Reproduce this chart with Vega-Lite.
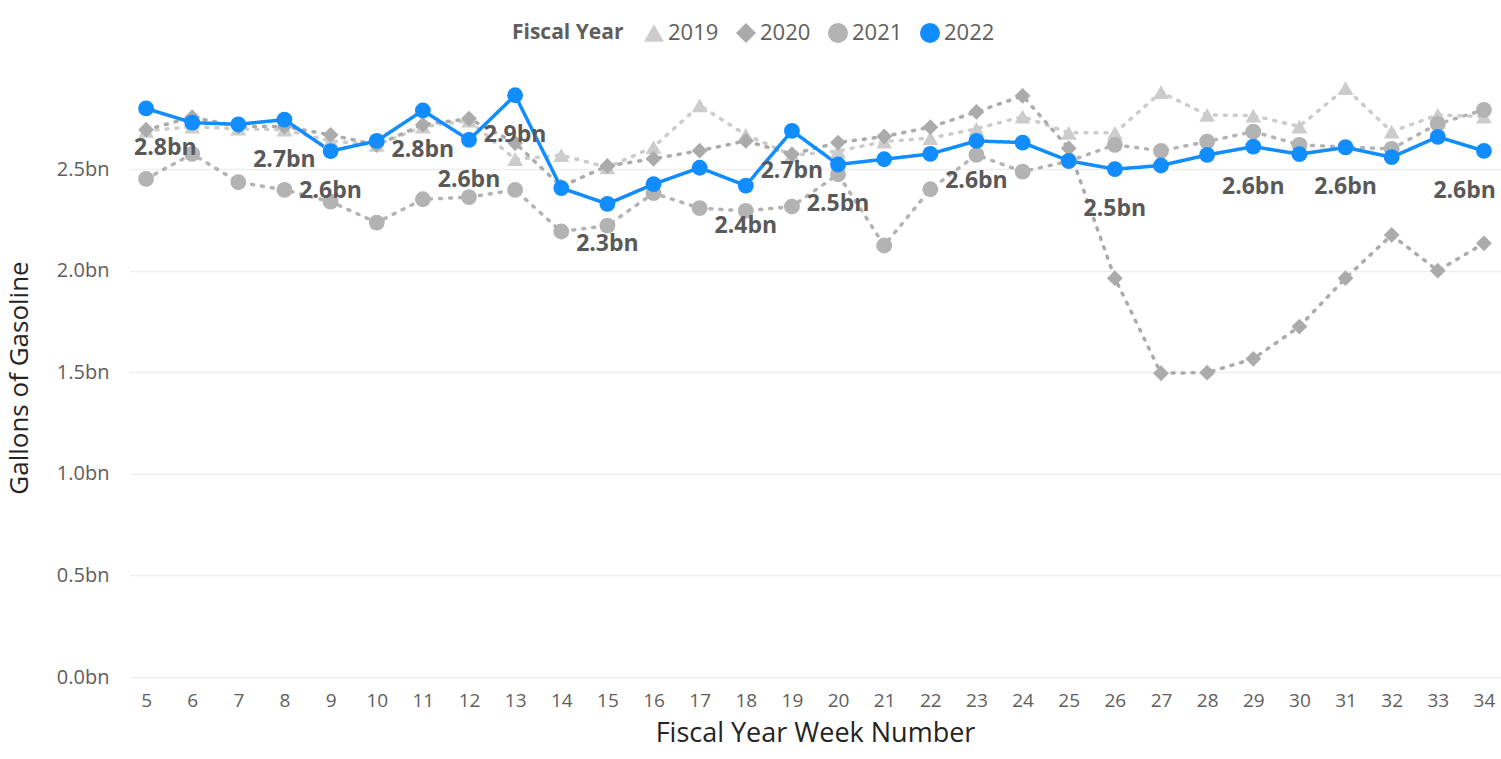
{
  "$schema": "https://vega.github.io/schema/vega-lite/v6.json",
  "width": 1372,
  "height": 599,
  "autosize": {"type": "none"},
  "padding": {"left": 129, "top": 78, "right": 0, "bottom": 82},
  "background": "white",
  "config": {"view": {"stroke": null}, "font": "Open Sans"},
  "data": {
    "values": [
      {"week": 5, "year": "2019", "gallons": 2.69},
      {"week": 6, "year": "2019", "gallons": 2.71},
      {"week": 7, "year": "2019", "gallons": 2.70},
      {"week": 8, "year": "2019", "gallons": 2.695},
      {"week": 9, "year": "2019", "gallons": 2.64},
      {"week": 10, "year": "2019", "gallons": 2.62},
      {"week": 11, "year": "2019", "gallons": 2.71},
      {"week": 12, "year": "2019", "gallons": 2.74},
      {"week": 13, "year": "2019", "gallons": 2.55},
      {"week": 14, "year": "2019", "gallons": 2.57},
      {"week": 15, "year": "2019", "gallons": 2.51},
      {"week": 16, "year": "2019", "gallons": 2.61},
      {"week": 17, "year": "2019", "gallons": 2.815},
      {"week": 18, "year": "2019", "gallons": 2.67},
      {"week": 19, "year": "2019", "gallons": 2.57},
      {"week": 20, "year": "2019", "gallons": 2.59},
      {"week": 21, "year": "2019", "gallons": 2.637},
      {"week": 22, "year": "2019", "gallons": 2.654},
      {"week": 23, "year": "2019", "gallons": 2.70},
      {"week": 24, "year": "2019", "gallons": 2.76},
      {"week": 25, "year": "2019", "gallons": 2.68},
      {"week": 26, "year": "2019", "gallons": 2.68},
      {"week": 27, "year": "2019", "gallons": 2.88},
      {"week": 28, "year": "2019", "gallons": 2.768},
      {"week": 29, "year": "2019", "gallons": 2.765},
      {"week": 30, "year": "2019", "gallons": 2.711},
      {"week": 31, "year": "2019", "gallons": 2.90},
      {"week": 32, "year": "2019", "gallons": 2.686},
      {"week": 33, "year": "2019", "gallons": 2.768},
      {"week": 34, "year": "2019", "gallons": 2.76},
      {"week": 5, "year": "2020", "gallons": 2.695},
      {"week": 6, "year": "2020", "gallons": 2.757},
      {"week": 7, "year": "2020", "gallons": 2.711},
      {"week": 8, "year": "2020", "gallons": 2.711},
      {"week": 9, "year": "2020", "gallons": 2.67},
      {"week": 10, "year": "2020", "gallons": 2.62},
      {"week": 11, "year": "2020", "gallons": 2.72},
      {"week": 12, "year": "2020", "gallons": 2.75},
      {"week": 13, "year": "2020", "gallons": 2.63},
      {"week": 14, "year": "2020", "gallons": 2.415},
      {"week": 15, "year": "2020", "gallons": 2.517},
      {"week": 16, "year": "2020", "gallons": 2.552},
      {"week": 17, "year": "2020", "gallons": 2.592},
      {"week": 18, "year": "2020", "gallons": 2.64},
      {"week": 19, "year": "2020", "gallons": 2.575},
      {"week": 20, "year": "2020", "gallons": 2.632},
      {"week": 21, "year": "2020", "gallons": 2.662},
      {"week": 22, "year": "2020", "gallons": 2.708},
      {"week": 23, "year": "2020", "gallons": 2.783},
      {"week": 24, "year": "2020", "gallons": 2.862},
      {"week": 25, "year": "2020", "gallons": 2.604},
      {"week": 26, "year": "2020", "gallons": 1.964},
      {"week": 27, "year": "2020", "gallons": 1.496},
      {"week": 28, "year": "2020", "gallons": 1.499},
      {"week": 29, "year": "2020", "gallons": 1.567},
      {"week": 30, "year": "2020", "gallons": 1.726},
      {"week": 31, "year": "2020", "gallons": 1.964},
      {"week": 32, "year": "2020", "gallons": 2.177},
      {"week": 33, "year": "2020", "gallons": 2.001},
      {"week": 34, "year": "2020", "gallons": 2.136},
      {"week": 5, "year": "2021", "gallons": 2.453},
      {"week": 6, "year": "2021", "gallons": 2.576},
      {"week": 7, "year": "2021", "gallons": 2.437},
      {"week": 8, "year": "2021", "gallons": 2.399},
      {"week": 9, "year": "2021", "gallons": 2.341},
      {"week": 10, "year": "2021", "gallons": 2.238},
      {"week": 11, "year": "2021", "gallons": 2.353},
      {"week": 12, "year": "2021", "gallons": 2.363},
      {"week": 13, "year": "2021", "gallons": 2.399},
      {"week": 14, "year": "2021", "gallons": 2.194},
      {"week": 15, "year": "2021", "gallons": 2.223},
      {"week": 16, "year": "2021", "gallons": 2.383},
      {"week": 17, "year": "2021", "gallons": 2.309},
      {"week": 18, "year": "2021", "gallons": 2.296},
      {"week": 19, "year": "2021", "gallons": 2.317},
      {"week": 20, "year": "2021", "gallons": 2.476},
      {"week": 21, "year": "2021", "gallons": 2.125},
      {"week": 22, "year": "2021", "gallons": 2.402},
      {"week": 23, "year": "2021", "gallons": 2.571},
      {"week": 24, "year": "2021", "gallons": 2.489},
      {"week": 25, "year": "2021", "gallons": 2.54},
      {"week": 26, "year": "2021", "gallons": 2.621},
      {"week": 27, "year": "2021", "gallons": 2.591},
      {"week": 28, "year": "2021", "gallons": 2.637},
      {"week": 29, "year": "2021", "gallons": 2.686},
      {"week": 30, "year": "2021", "gallons": 2.621},
      {"week": 31, "year": "2021", "gallons": 2.61},
      {"week": 32, "year": "2021", "gallons": 2.601},
      {"week": 33, "year": "2021", "gallons": 2.724},
      {"week": 34, "year": "2021", "gallons": 2.793},
      {"week": 5, "year": "2022", "gallons": 2.80},
      {"week": 6, "year": "2022", "gallons": 2.73},
      {"week": 7, "year": "2022", "gallons": 2.722},
      {"week": 8, "year": "2022", "gallons": 2.745},
      {"week": 9, "year": "2022", "gallons": 2.59},
      {"week": 10, "year": "2022", "gallons": 2.64},
      {"week": 11, "year": "2022", "gallons": 2.79},
      {"week": 12, "year": "2022", "gallons": 2.645},
      {"week": 13, "year": "2022", "gallons": 2.865},
      {"week": 14, "year": "2022", "gallons": 2.408},
      {"week": 15, "year": "2022", "gallons": 2.33},
      {"week": 16, "year": "2022", "gallons": 2.427},
      {"week": 17, "year": "2022", "gallons": 2.508},
      {"week": 18, "year": "2022", "gallons": 2.42},
      {"week": 19, "year": "2022", "gallons": 2.69},
      {"week": 20, "year": "2022", "gallons": 2.524},
      {"week": 21, "year": "2022", "gallons": 2.55},
      {"week": 22, "year": "2022", "gallons": 2.576},
      {"week": 23, "year": "2022", "gallons": 2.64},
      {"week": 24, "year": "2022", "gallons": 2.632},
      {"week": 25, "year": "2022", "gallons": 2.542},
      {"week": 26, "year": "2022", "gallons": 2.501},
      {"week": 27, "year": "2022", "gallons": 2.519},
      {"week": 28, "year": "2022", "gallons": 2.571},
      {"week": 29, "year": "2022", "gallons": 2.612},
      {"week": 30, "year": "2022", "gallons": 2.575},
      {"week": 31, "year": "2022", "gallons": 2.608},
      {"week": 32, "year": "2022", "gallons": 2.56},
      {"week": 33, "year": "2022", "gallons": 2.66},
      {"week": 34, "year": "2022", "gallons": 2.591}
    ]
  },
  "encoding": {
    "x": {
      "field": "week",
      "type": "ordinal",
      "scale": {"type": "point", "padding": 0.37},
      "axis": {
        "title": "Fiscal Year Week Number",
        "labelAngle": 0,
        "grid": false,
        "domain": false,
        "ticks": false,
        "labelPadding": 14,
        "labelFontSize": 19,
        "labelColor": "#605E5C",
        "titleFontSize": 27,
        "titleFontWeight": "normal",
        "titleColor": "#252423",
        "titlePadding": 10
      }
    },
    "y": {
      "field": "gallons",
      "type": "quantitative",
      "scale": {"domain": [0, 2.95], "nice": false, "zero": true},
      "axis": {
        "title": "Gallons of Gasoline",
        "values": [0, 0.5, 1, 1.5, 2, 2.5],
        "labelExpr": "format(datum.value, '.1f') + 'bn'",
        "grid": true,
        "gridColor": "#EEEEEE",
        "gridWidth": 1.5,
        "domain": false,
        "ticks": false,
        "labelPadding": 20,
        "labelFontSize": 20,
        "labelColor": "#605E5C",
        "titleFontSize": 26,
        "titleFontWeight": "normal",
        "titleColor": "#252423",
        "titlePadding": 24
      }
    }
  },
  "layer": [
    {
      "mark": {"type": "line", "strokeWidth": 3.5, "strokeCap": "round"},
      "encoding": {
        "color": {
          "field": "year",
          "type": "nominal",
          "scale": {"domain": ["2019", "2020", "2021", "2022"], "range": ["#CCCCCC", "#ABABAB", "#B3B3B3", "#118DFF"]}
        },
        "strokeDash": {
          "field": "year",
          "type": "nominal",
          "scale": {"domain": ["2019", "2020", "2021", "2022"], "range": [[2, 8], [2, 8], [2, 8], [1, 0]]},
          "legend": null
        }
      }
    },
    {
      "mark": {"type": "point", "filled": true, "opacity": 1, "size": 250},
      "encoding": {
        "color": {
          "field": "year",
          "type": "nominal",
          "scale": {"domain": ["2019", "2020", "2021", "2022"], "range": ["#CCCCCC", "#ABABAB", "#B3B3B3", "#118DFF"]},
          "legend": {
            "title": "Fiscal Year",
            "orient": "none",
            "legendX": 383,
            "legendY": -56,
            "direction": "horizontal",
            "titleOrient": "left",
            "titleFontSize": 21,
            "titleFontWeight": "bold",
            "titleColor": "#605E5C",
            "titlePadding": 19,
            "labelFontSize": 22,
            "labelColor": "#605E5C",
            "labelOffset": 3,
            "columnPadding": 16,
            "symbolSize": 400,
            "symbolOpacity": 1,
            "symbolStrokeWidth": 0,
            "padding": 0
          }
        },
        "shape": {
          "field": "year",
          "type": "nominal",
          "scale": {"domain": ["2019", "2020", "2021", "2022"], "range": ["triangle-up", "diamond", "circle", "circle"]},
          "legend": {
            "title": "Fiscal Year",
            "orient": "none",
            "legendX": 383,
            "legendY": -56,
            "direction": "horizontal",
            "titleOrient": "left",
            "titleFontSize": 21,
            "titleFontWeight": "bold",
            "titleColor": "#605E5C",
            "titlePadding": 19,
            "labelFontSize": 22,
            "labelColor": "#605E5C",
            "labelOffset": 3,
            "columnPadding": 16,
            "symbolSize": 400,
            "symbolOpacity": 1,
            "symbolStrokeWidth": 0,
            "padding": 0
          }
        }
      }
    },
    {
      "transform": [
        {"filter": {"field": "year", "equal": "2022"}},
        {"filter": {"field": "week", "oneOf": [8, 9, 11, 12, 13, 15, 18, 19, 20, 23, 26, 29, 31]}}
      ],
      "mark": {"type": "text", "text": {"expr": "format(datum.gallons, '.1f') + 'bn'"}, "dy": 40, "fontSize": 23, "fontWeight": "bold", "color": "#595959", "baseline": "middle", "align": "center"}
    },
    {
      "transform": [
        {"filter": {"field": "year", "equal": "2022"}},
        {"filter": {"field": "week", "equal": 5}}
      ],
      "mark": {"type": "text", "text": {"expr": "format(datum.gallons, '.1f') + 'bn'"}, "dy": 40, "dx": -12, "fontSize": 23, "fontWeight": "bold", "color": "#595959", "baseline": "middle", "align": "left"}
    },
    {
      "transform": [
        {"filter": {"field": "year", "equal": "2022"}},
        {"filter": {"field": "week", "equal": 34}}
      ],
      "mark": {"type": "text", "text": {"expr": "format(datum.gallons, '.1f') + 'bn'"}, "dy": 40, "dx": 12, "fontSize": 23, "fontWeight": "bold", "color": "#595959", "baseline": "middle", "align": "right"}
    }
  ]
}
